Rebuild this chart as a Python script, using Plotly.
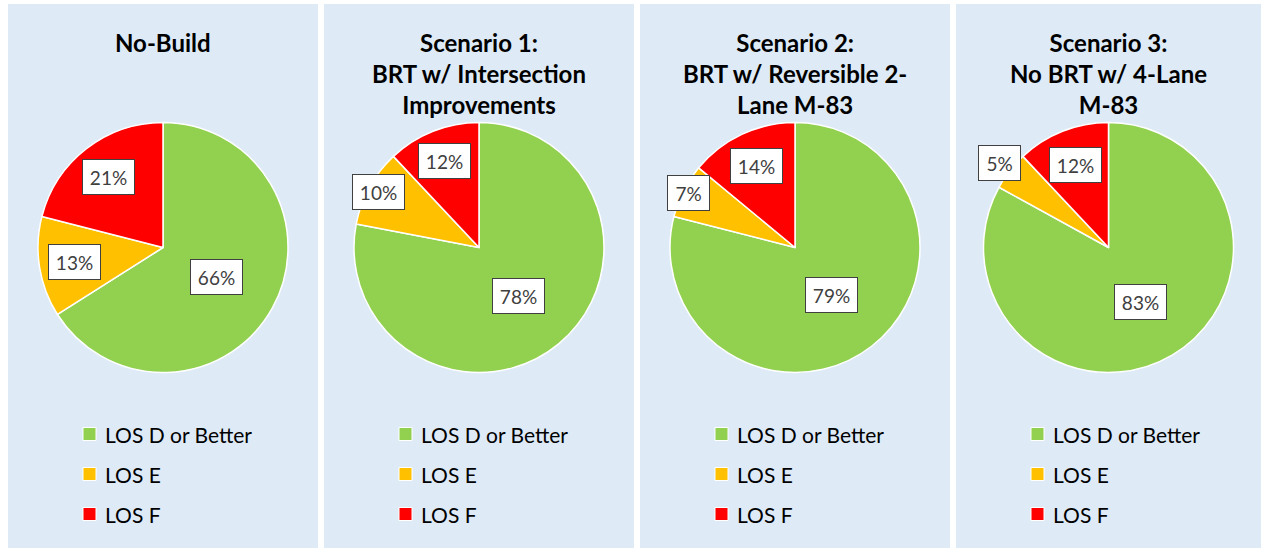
import math

import plotly.graph_objects as go

# data
categories = ["LOS D or Better", "LOS E", "LOS F"]
titles = [
    "No-Build",
    "Scenario 1:<br>BRT w/ Intersection<br>Improvements",
    "Scenario 2:<br>BRT w/ Reversible 2-<br>Lane M-83",
    "Scenario 3:<br>No BRT w/ 4-Lane<br>M-83",
]
no_build = [66, 13, 21]
scenario_1 = [78, 10, 12]
scenario_2 = [79, 7, 14]
scenario_3 = [83, 5, 12]
slice_colors = ["#92D050", "#FFC000", "#FF0000"]

series = [no_build, scenario_1, scenario_2, scenario_3]

# layout (pixels)
W, H = 1261, 548
panel_x = [(8, 318), (324, 634), (640, 950), (956, 1261)]
panel_top = 4
pie_cy = 247.5
pie_r = 125
# how far out (as a share of the radius) each data label sits
label_r = [
    [0.49, 0.72, 0.71],
    [0.50, 0.92, 0.74],
    [0.48, 0.96, 0.72],
    [0.51, 1.10, 0.71],
]
legend_rows = [434, 474, 514]
BG = "#DEEBF7"
FONT = "Lato"


def px_x(x):
    return x / W


def px_y(y):
    return 1 - y / H


fig = go.Figure()
shapes = []
annots = []

for i, (vals, title) in enumerate(zip(series, titles)):
    left, right = panel_x[i]
    cx = (left + right) / 2

    shapes.append(dict(type="rect", xref="paper", yref="paper",
                       x0=px_x(left), x1=px_x(right), y0=0, y1=px_y(panel_top),
                       fillcolor=BG, line=dict(width=0), layer="below"))

    fig.add_trace(go.Pie(
        labels=categories,
        values=vals,
        sort=False,
        direction="clockwise",
        rotation=0,
        textinfo="none",
        hoverinfo="label+percent",
        marker=dict(colors=slice_colors, line=dict(color="white", width=1.5)),
        domain=dict(x=[px_x(cx - pie_r), px_x(cx + pie_r)],
                    y=[px_y(pie_cy + pie_r), px_y(pie_cy - pie_r)]),
        showlegend=False,
    ))

    # title
    annots.append(dict(x=px_x(cx), y=px_y(26), xref="paper", yref="paper",
                       xanchor="center", yanchor="top", showarrow=False,
                       text="<b>" + title + "</b>",
                       font=dict(family=FONT, size=24, color="#000000")))

    # data labels at slice mid angles
    total = sum(vals)
    cum = 0
    for j, v in enumerate(vals):
        mid = (cum + v / 2) / total * 2 * math.pi
        cum += v
        r = label_r[i][j] * pie_r
        lx = cx + r * math.sin(mid)
        ly = pie_cy - r * math.cos(mid)
        txt = f"{round(v / total * 100)}%"
        annots.append(dict(x=px_x(lx), y=px_y(ly), xref="paper", yref="paper",
                           xanchor="center", yanchor="middle", showarrow=False,
                           text=txt, width=10 * len(txt) + 17, height=30,
                           bgcolor="white", bordercolor="#404040",
                           borderwidth=1, borderpad=2,
                           font=dict(family=FONT, size=19, color="#404040")))

    # legend
    for j, name in enumerate(categories):
        sy = legend_rows[j]
        sx = left + 75
        shapes.append(dict(type="rect", xref="paper", yref="paper",
                           x0=px_x(sx), x1=px_x(sx + 13),
                           y0=px_y(sy + 6.5), y1=px_y(sy - 6.5),
                           fillcolor=slice_colors[j],
                           line=dict(color="white", width=1)))
        annots.append(dict(x=px_x(sx + 20), y=px_y(sy), xref="paper", yref="paper",
                           xanchor="left", yanchor="middle", showarrow=False,
                           text=name,
                           font=dict(family=FONT, size=21, color="#000000")))

fig.update_layout(
    width=W, height=H,
    margin=dict(l=0, r=0, t=0, b=0),
    paper_bgcolor="white",
    plot_bgcolor="white",
    shapes=shapes,
    annotations=annots,
)

# the page body has a default 8px margin; drop it so the figure sits at 0,0
fig.write_html("out.html", config={"displayModeBar": False},
               post_script="document.body.style.margin = '0';")
